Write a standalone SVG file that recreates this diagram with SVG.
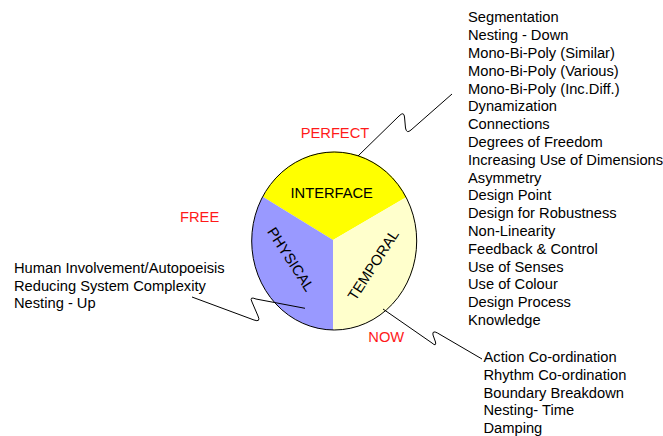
<svg xmlns="http://www.w3.org/2000/svg" width="663" height="436" viewBox="0 0 663 436">
<style>
text{font-family:"Liberation Sans",Arial,Helvetica,sans-serif;font-size:14.7px;fill:#000}
.red{fill:#ff1a1a}
.conn{fill:none;stroke:#000;stroke-width:1}
</style>
<rect width="663" height="436" fill="#fff"/>
<g id="wheel">
  <g id="interface">
    <path d="M333,240 L262.7,196.7 A82.5,89 0 0,1 406.5,197 Z" fill="#ffff00"/>
    <text x="331.7" y="198.3" text-anchor="middle">INTERFACE</text>
  </g>
  <g id="temporal">
    <path d="M333,240 L406.5,197 A82.5,89 0 0,1 333,330 Z" fill="#ffffcc"/>
    <text transform="translate(373.3,265) rotate(-57)" x="0" y="5" text-anchor="middle">TEMPORAL</text>
  </g>
  <g id="physical">
    <path d="M333,240 L333,330 A82.5,89 0 0,1 262.7,196.7 Z" fill="#9999ff"/>
    <text transform="translate(290.7,259.3) rotate(57)" x="0" y="5" text-anchor="middle">PHYSICAL</text>
  </g>
  <ellipse cx="334.2" cy="241" rx="82.5" ry="89" fill="none" stroke="#000" stroke-width="1"/>
</g>
<g id="connectors">
  <path class="conn" d="M358,156 L399,116 Q404,111 404.5,117 L405.5,128 Q406.5,134 411,130 L452,94"/>
  <path class="conn" d="M192,297 L254,320 Q261,322.5 258,316 L252,302 Q249,296 256,299 L305,308.3"/>
  <path class="conn" d="M383,309 L432,343 Q436.5,347 435.5,342 L433,335 Q432,330 437.5,333 L482,359"/>
</g>
<g id="label-perfect"><text class="red" x="300.7" y="138.3">PERFECT</text></g>
<g id="label-free"><text class="red" x="180" y="221.5">FREE</text></g>
<g id="label-now"><text class="red" x="368.3" y="342.3">NOW</text></g>
<g id="list-interface">
  <text x="468" y="22.3">Segmentation</text>
  <text x="468" y="40.1">Nesting - Down</text>
  <text x="468" y="57.9">Mono-Bi-Poly (Similar)</text>
  <text x="468" y="75.7">Mono-Bi-Poly (Various)</text>
  <text x="468" y="93.5">Mono-Bi-Poly (Inc.Diff.)</text>
  <text x="468" y="111.3">Dynamization</text>
  <text x="468" y="129.1">Connections</text>
  <text x="468" y="146.9">Degrees of Freedom</text>
  <text x="468" y="164.7">Increasing Use of Dimensions</text>
  <text x="468" y="182.5">Asymmetry</text>
  <text x="468" y="200.3">Design Point</text>
  <text x="468" y="218.1">Design for Robustness</text>
  <text x="468" y="235.9">Non-Linearity</text>
  <text x="468" y="253.7">Feedback &amp; Control</text>
  <text x="468" y="271.5">Use of Senses</text>
  <text x="468" y="289.3">Use of Colour</text>
  <text x="468" y="307.1">Design Process</text>
  <text x="468" y="324.9">Knowledge</text>
</g>
<g id="list-physical">
  <text x="14" y="273.3">Human Involvement/Autopoeisis</text>
  <text x="14" y="290.8">Reducing System Complexity</text>
  <text x="14" y="308.3">Nesting - Up</text>
</g>
<g id="list-temporal">
  <text x="483.5" y="362.3">Action Co-ordination</text>
  <text x="483.5" y="379.9">Rhythm Co-ordination</text>
  <text x="483.5" y="397.5">Boundary Breakdown</text>
  <text x="483.5" y="415.1">Nesting- Time</text>
  <text x="483.5" y="432.7">Damping</text>
</g>
</svg>
